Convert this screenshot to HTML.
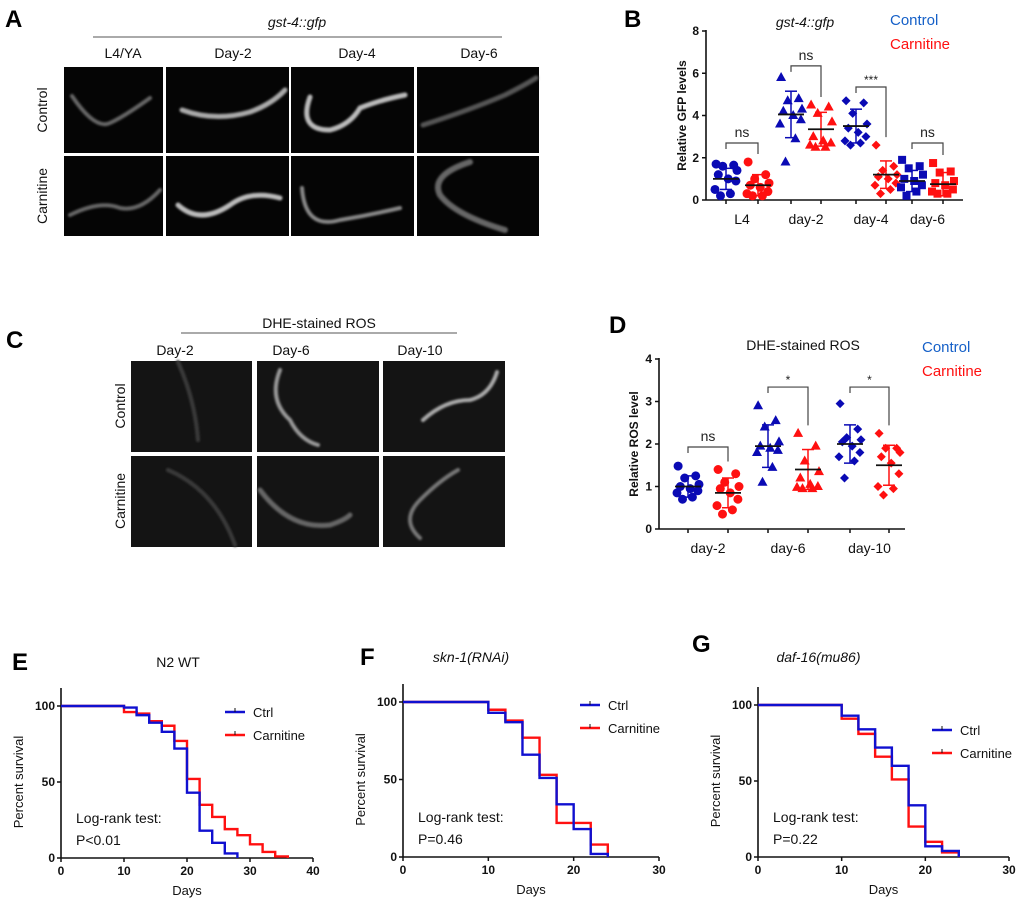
<!DOCTYPE html>
<html><head><meta charset="utf-8"><style>
html,body{margin:0;padding:0;background:#fff;}
svg{display:block;font-family:"Liberation Sans",sans-serif;}
.t{font-size:12px;font-weight:bold;fill:#111;}
.lab{font-size:14px;fill:#111;}
</style></head><body>
<svg id="fig" width="1020" height="904" viewBox="0 0 1020 904">
<defs><filter id="bl"><feGaussianBlur stdDeviation="1.1"/></filter></defs>
<g font-size="24" font-weight="bold" fill="#000">
<text x="5" y="27">A</text><text x="624" y="27">B</text><text x="6" y="348">C</text><text x="609" y="333">D</text>
<text x="12" y="670">E</text><text x="360" y="665">F</text><text x="692" y="652">G</text></g>
<g>
<text x="297" y="27" class="lab" font-style="italic" text-anchor="middle">gst-4::gfp</text>
<line x1="93" y1="37" x2="502" y2="37" stroke="#555" stroke-width="1"/>
<g class="lab" text-anchor="middle"><text x="123" y="58">L4/YA</text><text x="233" y="58">Day-2</text><text x="357" y="58">Day-4</text><text x="479" y="58">Day-6</text></g>
<text class="lab" transform="translate(47,110) rotate(-90)" text-anchor="middle">Control</text>
<text class="lab" transform="translate(47,196) rotate(-90)" text-anchor="middle">Carnitine</text>
<rect x="64" y="67" width="99" height="86" fill="#050505"/><rect x="166" y="67" width="123" height="86" fill="#050505"/>
<rect x="291" y="67" width="123" height="86" fill="#050505"/><rect x="417" y="67" width="122" height="86" fill="#050505"/>
<rect x="64" y="156" width="99" height="80" fill="#050505"/><rect x="166" y="156" width="123" height="80" fill="#050505"/>
<rect x="291" y="156" width="123" height="80" fill="#050505"/><rect x="417" y="156" width="122" height="80" fill="#050505"/>
<g fill="none" stroke-linecap="round" filter="url(#bl)">
<path d="M72 96 Q95 130 110 123 Q125 116 150 98" stroke="#666" stroke-width="4"/>
<path d="M182 110 Q215 122 250 112 Q272 104 285 90" stroke="#aaa" stroke-width="5"/>
<path d="M310 97 Q298 130 330 130 Q350 125 360 108 Q380 100 405 95" stroke="#bbb" stroke-width="5"/>
<path d="M423 125 Q470 110 505 95 Q525 85 536 78" stroke="#555" stroke-width="5"/>
<path d="M70 215 Q100 200 120 208 Q140 212 160 190" stroke="#666" stroke-width="4"/>
<path d="M178 205 Q200 225 230 205 Q250 190 280 198" stroke="#bbb" stroke-width="5"/>
<path d="M302 188 Q305 230 340 220 Q370 215 400 208" stroke="#888" stroke-width="4"/>
<path d="M470 162 Q430 175 440 195 Q455 215 505 230" stroke="#666" stroke-width="6"/>
</g></g>
<g>
<text x="319" y="328" class="lab" text-anchor="middle">DHE-stained ROS</text>
<line x1="181" y1="333" x2="457" y2="333" stroke="#555" stroke-width="1"/>
<g class="lab" text-anchor="middle"><text x="175" y="355">Day-2</text><text x="291" y="355">Day-6</text><text x="420" y="355">Day-10</text></g>
<text class="lab" transform="translate(125,406) rotate(-90)" text-anchor="middle">Control</text>
<text class="lab" transform="translate(125,501) rotate(-90)" text-anchor="middle">Carnitine</text>
<rect x="131" y="361" width="121" height="91" fill="#141414"/><rect x="257" y="361" width="122" height="91" fill="#141414"/><rect x="383" y="361" width="122" height="91" fill="#141414"/>
<rect x="131" y="456" width="121" height="91" fill="#141414"/><rect x="257" y="456" width="122" height="91" fill="#141414"/><rect x="383" y="456" width="122" height="91" fill="#141414"/>
<g fill="none" stroke-linecap="round" filter="url(#bl)">
<path d="M178 362 Q195 400 198 440" stroke="#3a3a3a" stroke-width="4"/>
<path d="M280 370 Q268 400 290 420 Q300 440 318 445" stroke="#999" stroke-width="4"/>
<path d="M423 420 Q445 400 470 400 Q490 395 497 372" stroke="#aaa" stroke-width="4"/>
<path d="M168 470 Q215 490 235 545" stroke="#3a3a3a" stroke-width="4"/>
<path d="M260 490 Q290 530 330 525 Q345 520 350 515" stroke="#666" stroke-width="5"/>
<path d="M420 538 Q400 520 420 500 Q440 480 458 470" stroke="#777" stroke-width="4"/>
</g></g>
<g id="charts"></g>
</svg>
<script>
const bCategories = ["L4","day-2","day-4","day-6"];
const bControl = [[1.7,1.65,1.6,1.4,1.2,1.0,0.9,0.5,0.3,0.2],[5.8,4.8,4.7,4.3,4.2,4.0,3.8,3.6,2.9,1.8],[4.7,4.6,4.1,3.6,3.4,3.2,3.0,2.8,2.7,2.6],[1.9,1.6,1.5,1.2,1.0,0.9,0.7,0.6,0.4,0.2]];
const bCarnitine = [[1.8,1.2,1.0,0.8,0.7,0.6,0.4,0.3,0.2,0.2],[4.5,4.4,4.1,3.7,3.0,2.8,2.7,2.6,2.5,2.5],[2.6,1.6,1.4,1.2,1.1,1.0,0.8,0.7,0.5,0.3],[1.75,1.35,1.3,0.9,0.8,0.7,0.5,0.4,0.3,0.3]];
const bMeanCtrl = [1.0,4.05,3.5,0.9];
const bSdCtrl = [0.5,1.1,0.8,0.5];
const bMeanCarn = [0.7,3.35,1.2,0.75];
const bSdCarn = [0.5,0.8,0.65,0.55];
const bSig = ["ns","ns","***","ns"];
const bSigY = [2.7,6.35,5.35,2.7];
const bTicks = [0,2,4,6,8];
const dCategories = ["day-2","day-6","day-10"];
const dControl = [[1.48,1.25,1.2,1.05,1.0,0.95,0.9,0.85,0.75,0.7],[2.9,2.55,2.4,2.05,1.95,1.9,1.85,1.8,1.45,1.1],[2.95,2.35,2.15,2.1,2.05,1.95,1.8,1.7,1.6,1.2]];
const dCarnitine = [[1.4,1.3,1.1,1.0,0.95,0.85,0.7,0.55,0.45,0.35],[2.25,1.95,1.6,1.35,1.2,1.05,1.0,0.98,0.95,0.95],[2.25,1.9,1.9,1.8,1.7,1.55,1.3,1.0,0.95,0.8]];
const dMeanCtrl = [1.0,1.95,2.0];
const dSdCtrl = [0.25,0.5,0.45];
const dMeanCarn = [0.85,1.4,1.5];
const dSdCarn = [0.35,0.47,0.47];
const dSig = ["ns","*","*"];
const dSigY = [1.93,3.34,3.34];
const dTicks = [0,1,2,3,4];
const survDays = [0,10,12,14,16,18,20,22,24,26,28,30,32,34,36];
const eCtrl = [100,99,94,89,83,72,43,18,10,3,0];
const eCarn = [100,96,95,90,87,77,52,35,27,19,15,9,4,1,0];
const fCtrl = [100,93,87,66,51,34,18,2,0];
const fCarn = [100,95,88,77,53,22,22,8,0];
const gCtrl = [100,93,84,72,60,34,7,4,0];
const gCarn = [100,91,81,66,51,20,10,3,0];

const NS="http://www.w3.org/2000/svg";
const root=document.getElementById('charts');
function mk(tag,attrs,parent,text){const e=document.createElementNS(NS,tag);for(const k in attrs)e.setAttribute(k,attrs[k]);if(text!==undefined)e.textContent=text;(parent||root).appendChild(e);return e;}
const BLUE="#0a0ab4", RED="#ff1010";
const jitter=[-9,7,-3,10,-7,2,9,-10,4,-5];

function marker(g,shape,x,y,c){
  const r=4.5;
  if(shape==='circle'){mk('circle',{cx:x,cy:y,r:r,fill:c},g);}
  else if(shape==='tri'){mk('polygon',{points:`${x},${y-r-1} ${x+r+0.5},${y+r-1} ${x-r-0.5},${y+r-1}`,fill:c},g);}
  else if(shape==='dia'){mk('polygon',{points:`${x},${y-r} ${x+r},${y} ${x},${y+r} ${x-r},${y}`,fill:c},g);}
  else {mk('rect',{x:x-r+0.5,y:y-r+0.5,width:2*r-1,height:2*r-1,fill:c},g);}
}

function scatter(cfg){
  const g=mk('g',{});  
  const ys=v=>cfg.y0-(v/cfg.ymax)*(cfg.y0-cfg.y1);
  mk('line',{x1:cfg.ax,y1:cfg.y1-1,x2:cfg.ax,y2:cfg.y0,stroke:'#111','stroke-width':1.6},g);
  mk('line',{x1:cfg.ax,y1:cfg.y0,x2:cfg.axEnd,y2:cfg.y0,stroke:'#111','stroke-width':1.6},g);
  cfg.ticks.forEach(t=>{const y=ys(t);mk('line',{x1:cfg.ax-4,y1:y,x2:cfg.ax,y2:y,stroke:'#111','stroke-width':1.5},g);
    mk('text',{x:cfg.ax-7,y:y+4,'text-anchor':'end',class:'t'},g,String(t));});
  const yl=mk('text',{transform:`translate(${cfg.ylx},${(cfg.y0+cfg.y1)/2}) rotate(-90)`,'text-anchor':'middle',class:'t'},g,cfg.ylabel);
  
  cfg.cats.forEach((c,i)=>{
    const xc=cfg.xs[i*2], xr=cfg.xs[i*2+1];
    [xc,xr].forEach(x=>mk('line',{x1:x,y1:cfg.y0,x2:x,y2:cfg.y0+4,stroke:'#111','stroke-width':1.5},g));
    const lbl=mk('text',{x:(xc+xr)/2,y:cfg.y0+24,'text-anchor':'middle',class:'lab'},g,c);
    
    [[cfg.ctrl[i],xc,BLUE,cfg.mc[i],cfg.sc[i]],[cfg.carn[i],xr,RED,cfg.mr[i],cfg.sr[i]]].forEach(([vals,x,col,m,s])=>{
      vals.forEach((v,j)=>marker(g,cfg.shapes[i],x+jitter[j]*1.1,ys(v),col));
      mk('line',{x1:x,y1:ys(m+s),x2:x,y2:ys(m-s),stroke:col,'stroke-width':1.5},g);
      mk('line',{x1:x-6,y1:ys(m+s),x2:x+6,y2:ys(m+s),stroke:col,'stroke-width':1.5},g);
      mk('line',{x1:x-6,y1:ys(m-s),x2:x+6,y2:ys(m-s),stroke:col,'stroke-width':1.5},g);
      mk('line',{x1:x-13,y1:ys(m),x2:x+13,y2:ys(m),stroke:'#111','stroke-width':1.8},g);
    });
    const by=ys(cfg.sigY[i]); const rmax=Math.max(...cfg.carn[i]);
    mk('path',{d:`M${xc} ${by+6} V${by} H${xr} V${ys(rmax)-8}`,fill:'none',stroke:'#444','stroke-width':1.2},g);
    const st=mk('text',{x:(xc+xr)/2,y:by-(cfg.sig[i]==='ns'?6:3),'text-anchor':'middle','font-size':cfg.sig[i]==='ns'?14:12,fill:'#222'},g,cfg.sig[i]);
    
  });
  mk('text',{x:cfg.titleX,y:cfg.titleY,'text-anchor':'middle','font-size':14,'font-style':cfg.italic?'italic':'normal',fill:'#111'},g,cfg.title);
  const l1=mk('text',{x:cfg.legX,y:cfg.legY,'font-size':15,fill:'#1560c8'},g,'Control'); 
  const l2=mk('text',{x:cfg.legX,y:cfg.legY+24,'font-size':15,fill:RED},g,'Carnitine'); 
}

scatter({name:'panel-b-gfp-chart',ax:706,axEnd:963,y0:200,y1:31,ymax:8,ticks:bTicks,ylx:686,ylabel:'Relative GFP levels',
  cats:bCategories,xs:[726,758,791,821,856,886,912,943],ctrl:bControl,carn:bCarnitine,mc:bMeanCtrl,sc:bSdCtrl,mr:bMeanCarn,sr:bSdCarn,
  shapes:['circle','tri','dia','sq'],sig:bSig,sigY:bSigY,title:'gst-4::gfp',italic:true,titleX:805,titleY:27,legX:890,legY:25});
scatter({name:'panel-d-ros-chart',ax:659,axEnd:905,y0:529,y1:359,ymax:4,ticks:dTicks,ylx:638,ylabel:'Relative ROS level',
  cats:dCategories,xs:[688,728,768,808,850,889],ctrl:dControl,carn:dCarnitine,mc:dMeanCtrl,sc:dSdCtrl,mr:dMeanCarn,sr:dSdCarn,
  shapes:['circle','tri','dia'],sig:dSig,sigY:dSigY,title:'DHE-stained ROS',italic:false,titleX:803,titleY:350,legX:922,legY:352});

function surv(cfg){
  const g=mk('g',{});  
  const xs=d=>cfg.x0+d/cfg.xmax*(cfg.x1-cfg.x0), ys=v=>cfg.y0-v/100*(cfg.y0-cfg.y100);
  mk('line',{x1:cfg.x0,y1:cfg.y100-18,x2:cfg.x0,y2:cfg.y0,stroke:'#111','stroke-width':1.6},g);
  mk('line',{x1:cfg.x0,y1:cfg.y0,x2:cfg.x1,y2:cfg.y0,stroke:'#111','stroke-width':1.6},g);
  [0,50,100].forEach(t=>{mk('line',{x1:cfg.x0-4,y1:ys(t),x2:cfg.x0,y2:ys(t),stroke:'#111','stroke-width':1.5},g);
    mk('text',{x:cfg.x0-6,y:ys(t)+4,'text-anchor':'end',class:'t'},g,String(t));});
  for(let t=0;t<=cfg.xmax;t+=10){mk('line',{x1:xs(t),y1:cfg.y0,x2:xs(t),y2:cfg.y0+4,stroke:'#111','stroke-width':1.5},g);
    mk('text',{x:xs(t),y:cfg.y0+17,'text-anchor':'middle',class:'t'},g,String(t));}
  const xl=mk('text',{x:(cfg.x0+cfg.x1)/2,y:cfg.y0+37,'text-anchor':'middle','font-size':13,fill:'#111'},g,'Days'); 
  const yl=mk('text',{transform:`translate(${cfg.x0-38},${(cfg.y0+cfg.y100)/2}) rotate(-90)`,'text-anchor':'middle','font-size':13,fill:'#111'},g,'Percent survival'); 
  function line(vals,col){let d=`M${xs(survDays[0])} ${ys(vals[0])}`;
    for(let i=1;i<vals.length;i++){d+=` H${xs(survDays[i])} V${ys(vals[i])}`;}
    return mk('path',{d:d,fill:'none',stroke:col,'stroke-width':2.4},g);}
  const pr=line(cfg.carn,RED); 
  const pb=line(cfg.ctrl,'#1010d0'); 
  mk('text',{x:(cfg.x0+cfg.x1)/2+cfg.titleDx,y:cfg.titleY,'text-anchor':'middle','font-size':14,'font-style':cfg.italic?'italic':'normal',fill:'#111'},g,cfg.title);
  mk('line',{x1:cfg.legX,y1:cfg.legY,x2:cfg.legX+20,y2:cfg.legY,stroke:'#1010d0','stroke-width':2.4},g);
  mk('line',{x1:cfg.legX+10,y1:cfg.legY-4,x2:cfg.legX+10,y2:cfg.legY,stroke:'#111','stroke-width':1},g);
  mk('text',{x:cfg.legX+28,y:cfg.legY+5,'font-size':13,fill:'#111'},g,'Ctrl');
  mk('line',{x1:cfg.legX,y1:cfg.legY+23,x2:cfg.legX+20,y2:cfg.legY+23,stroke:RED,'stroke-width':2.4},g);
  mk('line',{x1:cfg.legX+10,y1:cfg.legY+19,x2:cfg.legX+10,y2:cfg.legY+23,stroke:'#111','stroke-width':1},g);
  mk('text',{x:cfg.legX+28,y:cfg.legY+28,'font-size':13,fill:'#111'},g,'Carnitine');
  mk('text',{x:cfg.x0+15,y:cfg.y0-35,'font-size':14,fill:'#111'},g,'Log-rank test:');
  mk('text',{x:cfg.x0+15,y:cfg.y0-13,'font-size':14,fill:'#111'},g,cfg.p);
}
surv({name:'panel-e-survival',x0:61,x1:313,xmax:40,y0:858,y100:706,ctrl:eCtrl,carn:eCarn,title:'N2 WT',italic:false,titleDx:-9,titleY:667,legX:225,legY:712,p:'P<0.01'});
surv({name:'panel-f-survival',x0:403,x1:659,xmax:30,y0:857,y100:702,ctrl:fCtrl,carn:fCarn,title:'skn-1(RNAi)',italic:true,titleDx:-60,titleY:662,legX:580,legY:705,p:'P=0.46'});
surv({name:'panel-g-survival',x0:758,x1:1009,xmax:30,y0:857,y100:705,ctrl:gCtrl,carn:gCarn,title:'daf-16(mu86)',italic:true,titleDx:-65,titleY:662,legX:932,legY:730,p:'P=0.22'});
</script>
</body></html>
